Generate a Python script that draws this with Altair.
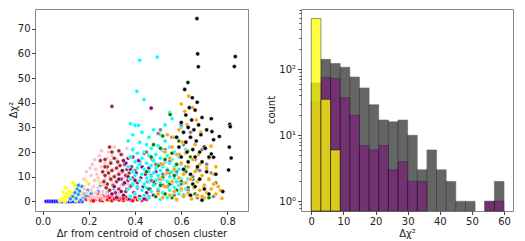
import altair as alt
import pandas as pd

# ---------------- scatter data: (delta r, delta chi^2) per cluster ----------------
blue_pts = [(0.015,0),(0.025,0),(0.035,0),(0.045,0),(0.055,0),(0.065,0),(0.075,0),(0.085,0),
            (0.095,0),(0.105,0),(0.115,0),(0.125,0),(0.135,0),(0.145,0),(0.16,0),(0.17,0)]
yellow_pts = [(0.085,1.0),(0.09,3.8),(0.095,2.2),(0.10,5.5),(0.10,0.5),(0.105,3.0),(0.11,1.5),(0.115,4.2),
              (0.12,2.5),(0.12,0.8),(0.125,3.5),(0.13,7.5),(0.13,1.2),(0.135,2.0),(0.14,4.5),(0.145,0.4),
              (0.15,3.0),(0.15,1.8),(0.155,5.2),(0.16,2.4),(0.165,0.9),(0.17,3.6),(0.175,1.5),(0.18,6.0),
              (0.185,2.8),(0.19,8.0),(0.19,0.6),(0.195,4.0),(0.20,1.8),(0.205,3.2),(0.21,5.0),(0.215,2.2),
              (0.22,0.8),(0.23,3.0),(0.24,8.5),(0.25,1.5),(0.26,4.0),(0.075,0.3),(0.095,0.2),(0.14,6.5)]
dodger_pts = [(0.13,2.0),(0.14,3.5),(0.145,1.2),(0.15,5.0),(0.155,2.8),(0.16,4.2),(0.165,0.5),(0.17,6.0),
              (0.175,1.8),(0.18,3.0),(0.185,0.8),(0.19,2.2),(0.195,4.5),(0.20,1.0),(0.21,3.2),(0.215,0.5),
              (0.22,2.0),(0.23,1.2),(0.24,4.0),(0.25,0.8),(0.26,2.5),(0.27,1.5),(0.28,3.5),(0.29,0.6),
              (0.30,2.0),(0.31,5.0),(0.32,1.0),(0.33,3.0),(0.34,0.8),(0.35,2.2),(0.36,1.2),(0.38,0.5),
              (0.155,6.5),(0.12,1.0),(0.25,6.5)]
red_pts = [(0.19,0.8),(0.20,1.5),(0.21,0.5),(0.22,1.8),(0.23,0.9),(0.24,1.4),(0.25,0.4),(0.26,1.2),
           (0.27,2.0),(0.28,0.7),(0.29,1.5),(0.30,0.3),(0.31,1.0),(0.32,2.2),(0.33,0.6),(0.34,1.3),
           (0.35,0.4),(0.36,1.8),(0.37,0.8),(0.38,1.2),(0.39,0.3),(0.40,1.6),(0.41,0.7),(0.42,1.1),
           (0.43,0.4),(0.44,1.5),(0.45,0.8),(0.46,2.0),(0.22,0.2),(0.26,0.3),(0.30,2.5),(0.35,1.2),
           (0.28,2.4),(0.24,3.0),(0.33,1.8)]
pink_pts = [(0.17,2.5),(0.18,5.0),(0.18,9.0),(0.19,3.5),(0.19,12.0),(0.20,7.0),(0.20,1.0),(0.21,4.5),
            (0.21,10.5),(0.215,15.0),(0.22,6.0),(0.22,2.0),(0.225,8.5),(0.23,13.0),(0.23,3.5),(0.235,11.0),
            (0.24,5.5),(0.24,9.5),(0.245,18.5),(0.25,7.5),(0.25,2.5),(0.255,14.0),(0.26,4.0),(0.26,11.5),
            (0.265,6.5),(0.27,9.0),(0.27,15.5),(0.275,3.0),(0.28,12.5),(0.28,7.0),(0.285,20.0),(0.29,5.0),
            (0.29,10.0),(0.295,16.5),(0.30,8.0),(0.30,3.0),(0.305,13.0),(0.31,6.0),(0.31,22.0),(0.315,10.5),
            (0.32,4.5),(0.32,17.0),(0.325,8.5),(0.33,12.0),(0.33,2.5),(0.34,6.5),(0.345,19.0),(0.35,9.5),
            (0.355,14.5),(0.36,4.0),(0.365,21.5),(0.235,1.5),(0.265,1.0),(0.205,13.5),(0.225,17.0),
            (0.255,20.5),(0.28,17.5),(0.30,18.5),(0.36,11.0),(0.37,7.0)]
brown_pts = [(0.25,16.5),(0.26,12.0),(0.265,8.0),(0.27,17.0),(0.27,10.5),(0.275,5.5),(0.28,14.0),(0.28,7.0),
             (0.285,11.5),(0.29,22.0),(0.29,4.5),(0.295,9.0),(0.295,15.5),(0.30,38.5),(0.30,12.5),(0.305,6.5),
             (0.31,17.5),(0.31,10.0),(0.315,3.5),(0.32,13.5),(0.32,8.0),(0.325,16.0),(0.33,11.0),(0.33,5.0),
             (0.335,14.5),(0.34,9.0),(0.34,19.0),(0.345,12.0),(0.35,7.0),(0.355,15.0),(0.36,10.5),(0.36,4.0),
             (0.365,13.0),(0.37,17.5),(0.37,8.5),(0.375,11.5),(0.38,6.0),(0.385,14.0),(0.39,9.5),(0.40,12.5),
             (0.41,7.5),(0.42,16.0),(0.30,20.0),(0.33,20.5),(0.27,14.0)]
purple_pts = [(0.30,3.0),(0.31,6.0),(0.32,1.5),(0.33,9.0),(0.34,4.0),(0.345,12.5),(0.35,2.5),(0.355,7.5),
              (0.36,15.5),(0.365,5.0),(0.37,10.0),(0.375,1.0),(0.38,13.0),(0.385,6.5),(0.39,18.0),(0.395,3.5),
              (0.40,8.5),(0.405,11.5),(0.41,5.5),(0.415,16.5),(0.42,2.0),(0.425,9.5),(0.43,14.0),(0.435,6.0),
              (0.44,19.5),(0.445,11.0),(0.45,3.5),(0.455,8.0),(0.46,13.5),(0.465,5.0),(0.47,37.8),(0.47,10.5),
              (0.475,17.0),(0.48,2.5),(0.485,7.0),(0.49,12.0),(0.50,4.5),(0.505,9.0),(0.51,15.0),(0.52,6.5),
              (0.53,20.5),(0.55,11.5),(0.39,21.0),(0.44,1.0),(0.58,8.0),(0.35,16.5)]
cyan_pts = [(0.37,5),(0.37,14),(0.37,24.5),(0.38,2),(0.38,9),(0.38,18),(0.38,31.5),
            (0.39,7),(0.39,12),(0.39,21),(0.39,27),(0.40,3),(0.40,10.5),(0.40,16),(0.40,30.8),(0.408,44.6),
            (0.41,6),(0.41,13.5),(0.41,19.5),(0.415,30.8),(0.42,1),(0.42,8.5),(0.42,15),(0.42,24),(0.42,57.2),
            (0.43,4.5),(0.43,11),(0.43,17.5),(0.43,28),(0.439,41.3),(0.44,2.5),(0.44,7),(0.44,13),(0.44,20),
            (0.45,5.5),(0.45,9.5),(0.45,15.5),(0.45,23),(0.46,1.5),(0.46,8),(0.46,12),(0.46,18.5),(0.46,26),
            (0.47,4),(0.47,10),(0.47,14.5),(0.47,21.5),(0.48,6.5),(0.48,11.5),(0.48,16.5),(0.48,29),
            (0.49,2),(0.49,8.5),(0.49,13.5),(0.49,19),(0.496,58.5),(0.50,5),(0.50,10.5),(0.50,15),(0.50,22.5),
            (0.51,0.8),(0.51,7.5),(0.51,12.5),(0.51,17.5),(0.51,27),(0.52,3.5),(0.52,9),(0.52,14),(0.52,20.5),
            (0.53,6),(0.53,11),(0.53,16),(0.53,24.5),(0.53,31),(0.54,1.5),(0.54,8),(0.54,13),(0.54,18.5),
            (0.55,4.5),(0.55,10),(0.55,15.5),(0.55,22),(0.55,36),(0.56,2.5),(0.56,7),(0.56,12),(0.56,17),(0.56,33.5),
            (0.57,5.5),(0.57,9.5),(0.57,14),(0.57,20),(0.58,0.5),(0.58,8),(0.58,11),(0.58,26),
            (0.59,3),(0.59,6.5),(0.59,13),(0.59,18),(0.60,4.5),(0.60,9),(0.60,15),(0.60,30),
            (0.61,2),(0.61,7.5),(0.61,11.5),(0.62,5),(0.62,12.5),(0.62,21),(0.63,3),(0.63,9)]
green_pts = [(0.45,12),(0.46,5),(0.47,18),(0.48,8),(0.49,2),(0.50,14.5),(0.51,21.5),(0.51,6.5),(0.52,10),
             (0.53,3),(0.53,17),(0.54,12.5),(0.552,35.2),(0.55,7),(0.56,1.5),(0.56,19.5),(0.57,10.5),(0.58,4.5),
             (0.58,15),(0.59,24.5),(0.60,8),(0.61,2.5),(0.62,12),(0.63,5.5),(0.64,18),(0.65,9),(0.66,3),
             (0.67,13),(0.70,5.5),(0.72,1.5),(0.48,23),(0.52,26.5)]
gray_pts = [(0.45,20),(0.47,8.5),(0.49,15),(0.50,4),(0.51,29),(0.52,11),(0.53,21),(0.54,6),(0.55,16.5),
            (0.56,26),(0.57,2.5),(0.58,12),(0.59,19),(0.60,7),(0.61,23),(0.62,14),(0.63,4.5),(0.64,28),
            (0.65,10),(0.66,17),(0.67,1.5),(0.68,12.5),(0.69,21),(0.70,6.5),(0.71,15),(0.72,9),(0.73,11.5),
            (0.74,2),(0.75,7.5),(0.60,31),(0.50,27.5)]
orange_pts = [(0.50,3),(0.51,9),(0.52,15),(0.52,1.5),(0.53,6),(0.54,11.5),(0.54,27),(0.55,2.5),(0.55,17.5),
              (0.56,8),(0.56,22),(0.57,4),(0.57,13),(0.58,0.8),(0.58,19),(0.59,9.5),(0.59,29),(0.60,5),
              (0.60,15.5),(0.605,24),(0.61,2),(0.61,11),(0.615,36.5),(0.62,7.5),(0.62,19.5),(0.625,31),
              (0.632,42.7),(0.63,3.5),(0.63,14),(0.64,26),(0.64,9),(0.645,1),(0.65,17),(0.65,38),(0.655,5.5),
              (0.66,12),(0.66,23),(0.665,33),(0.67,2.5),(0.67,8),(0.675,19),(0.68,15),(0.68,4.5),(0.685,28),
              (0.69,10.5),(0.70,1.5),(0.70,6.5),(0.71,13.5),(0.71,3.5),(0.72,9),(0.72,17.5),(0.729,22.4),
              (0.73,5),(0.74,7),(0.74,11),(0.75,3),(0.75,14),(0.76,6),(0.77,4.5),(0.776,1.2),(0.66,37),
              (0.57,26),(0.60,39.5),(0.69,2),(0.53,20),(0.63,20.5)]
black_pts = [(0.58,26),(0.59,22),(0.60,18),(0.60,32),(0.61,13),(0.61,28),(0.615,45.4),(0.62,24),(0.62,35),
             (0.625,20),(0.629,48.2),(0.63,30),(0.63,16),(0.635,38),(0.64,26),(0.64,11),(0.645,33),(0.648,42),
             (0.65,21),(0.65,7),(0.655,29),(0.66,18),(0.66,37),(0.668,74.1),(0.665,24.5),(0.671,59.8),(0.67,14),
             (0.674,54.6),(0.669,40.2),(0.675,31),(0.68,20),(0.68,9),(0.685,27),(0.69,16),(0.69,34),(0.70,22),
             (0.70,5),(0.704,21.5),(0.71,12),(0.71,29),(0.72,18),(0.72,3),(0.73,33.5),(0.733,28.3),(0.73,19.2),
             (0.74,17.9),(0.74,25),(0.75,11),(0.765,26.3),(0.78,4),(0.808,22),(0.81,31.2),(0.812,30.3),
             (0.816,17.6),(0.805,12.7),(0.83,54.7),(0.834,58.7),(0.66,6),(0.64,2.5),(0.69,0.5)]

cluster_names = ["blue", "yellow", "dodger", "red", "pink", "brown", "purple",
                 "cyan", "green", "gray", "orange", "black"]
cluster_colors = ["#0000ff", "#ffff00", "#1e90ff", "#ff0000", "#ffc0cb", "#a52a2a", "#800080",
                  "#00ffff", "#008000", "#808080", "#ffa500", "#000000"]
cluster_points = [blue_pts, yellow_pts, dodger_pts, red_pts, pink_pts, brown_pts, purple_pts,
                  cyan_pts, green_pts, gray_pts, orange_pts, black_pts]

# ---------------- histogram data (bins of width 3 from 0 to 60) ----------------
bin_edges = list(range(0, 61, 3))
counts_all = [62, 141, 122, 107, 76, 52, 29, 17, 16, 17, 10, 3, 6, 3, 2, 1, 1, 0, 1, 2]
counts_purple = [32, 75, 72, 37, 20, 7, 6, 7, 3, 4, 2, 2, 0, 0, 0, 0, 0, 0, 1, 1]
counts_yellow = [585, 35, 6, 0, 0, 0, 0, 0, 0, 0, 0, 0, 0, 0, 0, 0, 0, 0, 0, 0]
ylog_min, ylog_max = 0.713, 815

rows = []
for order, (name, pts) in enumerate(zip(cluster_names, cluster_points)):
    for x, y in pts:
        rows.append({"dr": x, "dchi2": y, "cluster": name, "ord": order})
scatter_df = pd.DataFrame(rows)

font = "DejaVu Sans"
axis_common = dict(labelFont=font, titleFont=font, labelFontSize=10, titleFontSize=10,
                   titleFontWeight="normal", labelColor="#222", titleColor="#222",
                   domain=False, tickColor="#444", tickSize=3.5, grid=False)

PW, PH = 213, 202

def ytitle(text, dx):
    return alt.Chart(pd.DataFrame({"t": [text]})).mark_text(
        angle=270, font=font, fontSize=10, color="#222", align="center", baseline="middle"
    ).encode(text="t:N", x=alt.value(dx), y=alt.value(PH / 2))

points = alt.Chart(scatter_df).mark_circle(size=17, opacity=1, stroke="white", strokeWidth=0.5).encode(
    x=alt.X("dr:Q", scale=alt.Scale(domain=[-0.033, 0.889], nice=False, zero=False),
            axis=alt.Axis(values=[0, 0.2, 0.4, 0.6, 0.8], format=".1f",
                          title="Δr from centroid of chosen cluster", titlePadding=2, labelPadding=2,
                          **axis_common)),
    y=alt.Y("dchi2:Q", scale=alt.Scale(domain=[-3.9, 78], nice=False, zero=False),
            axis=alt.Axis(values=list(range(0, 71, 10)), title=None, labelPadding=1.5, **axis_common)),
    color=alt.Color("cluster:N", scale=alt.Scale(domain=cluster_names, range=cluster_colors), legend=None),
    order=alt.Order("ord:Q"),
)
scatter = alt.layer(points, ytitle("Δχ²", -21)).properties(width=PW, height=PH)

def hist_df(counts):
    return pd.DataFrame([
        {"start": bin_edges[i], "end": bin_edges[i + 1], "count": c, "base": ylog_min}
        for i, c in enumerate(counts) if c > 0
    ])

minor_vals = [m * 10 ** e for e in (-1, 0, 1, 2) for m in range(1, 10) if ylog_min <= m * 10 ** e <= ylog_max]
major_test = "datum.value == 1 || datum.value == 10 || datum.value == 100"
hist_axis = {**axis_common,
             "tickSize": {"condition": {"test": major_test, "value": 3.5}, "value": 2},
             "labelFontSize": {"condition": {"test": major_test, "value": 10}, "value": 0}}
xh = alt.X("start:Q", scale=alt.Scale(domain=[-3.2, 62.8], nice=False, zero=False),
           axis=alt.Axis(values=list(range(0, 61, 10)), title="Δχ²", titlePadding=2, labelPadding=2,
                         **axis_common))
yh = alt.Y("count:Q", scale=alt.Scale(type="log", domain=[ylog_min, ylog_max], nice=False),
           axis=alt.Axis(values=minor_vals, title=None, labelPadding=2, labelOverlap=False,
                         labelExpr="datum.value == 1 ? '10⁰' : datum.value == 10 ? '10¹' : datum.value == 100 ? '10²' : ''",
                         **hist_axis))

def hist_layer(counts, color, opacity):
    return alt.Chart(hist_df(counts)).mark_bar(color=color, opacity=opacity, stroke="black",
                                                strokeWidth=0.8, strokeOpacity=0.7).encode(
        x=xh, x2="end:Q", y=yh, y2="base:Q")

hist = alt.layer(
    hist_layer(counts_all, "#000000", 0.6),
    hist_layer(counts_purple, "#800080", 0.5),
    hist_layer(counts_yellow, "#ffff00", 0.75),
    ytitle("count", -29),
).properties(width=212, height=PH)

chart = alt.hconcat(scatter, hist, spacing=17).properties(padding=0).configure_view(
    stroke="#888", strokeWidth=1)

chart.save("out.html", embed_options={"renderer": "svg", "actions": False})
